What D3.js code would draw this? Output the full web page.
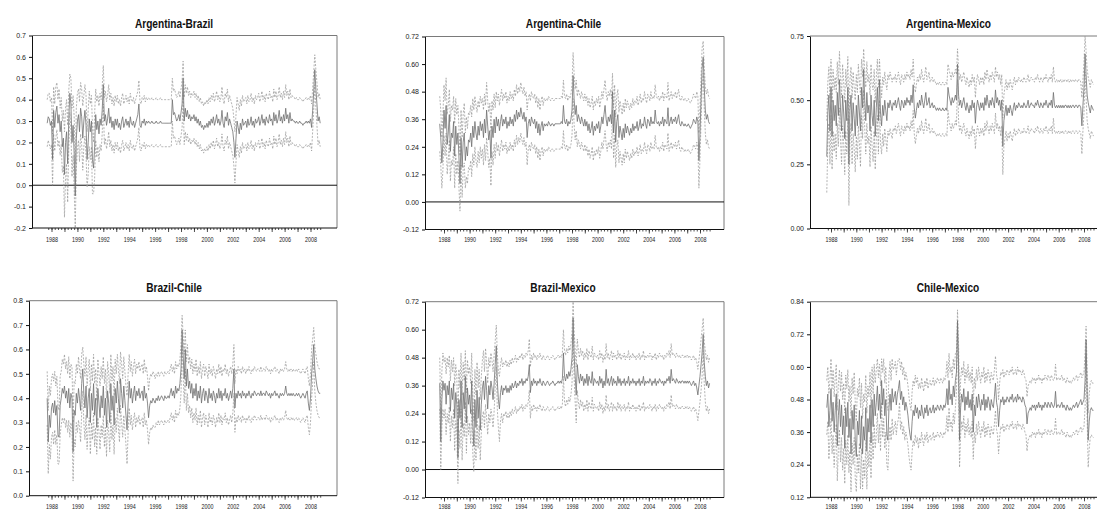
<!DOCTYPE html>
<html>
<head>
<meta charset="utf-8">
<script src="https://cdn.jsdelivr.net/npm/d3@7"></script>
<style>
  html, body { margin: 0; padding: 0; background: #fff; }
  svg { display: block; }
</style>
</head>
<body>
<svg id="chart" width="1097" height="511"></svg>
<script>
// Monthly dynamic conditional correlations (in hundredths), Sep 1987 – Oct 2008,
// and the half-width of the confidence band around each estimate.
const firstMonth = new Date(1987, 8, 1);

const argBraCorr = [
  29,32,31,28,
  30,12,35,27,34,37,29,33,25,30,18,22,
  5,20,25,10,30,43,38,20,28,15,-5,22,
  30,33,25,36,32,22,30,35,28,12,20,31,
  25,30,12,8,18,33,26,30,24,31,28,35,
  47,30,33,28,31,36,29,32,27,30,26,31,
  28,31,27,29,26,30,32,27,29,31,28,30,
  27,32,29,28,30,27,29,31,33,38,28,27,
  30,29,31,28,30,29,30,29,29,30,29,29,
  29,30,29,29,29,30,29,29,29,29,29,29,
  29,29,29,29,40,33,34,32,30,31,33,30,
  34,38,50,30,36,32,35,31,33,30,32,31,
  33,30,32,29,31,28,30,27,28,26,28,27,
  29,27,30,28,31,29,32,28,30,33,29,31,
  28,30,35,29,27,32,30,34,28,31,29,27,
  25,20,13,22,30,27,24,29,26,31,28,29,
  30,27,31,28,29,32,28,30,27,31,29,30,
  32,28,30,33,29,31,28,32,30,29,33,30,
  31,28,34,30,33,29,31,35,30,32,29,33,
  30,36,31,33,29,34,30,31,30,30,29,30,
  29,29,30,29,29,28,29,29,30,29,30,29,
  31,27,35,44,54,45,38,30,32,29
];
const argBraBand = [
  11,11,12,11,
  11,12,11,11,12,11,11,12,11,11,12,13,
  20,16,15,18,14,9,12,16,14,17,15,14,
  13,12,14,12,13,15,12,12,14,13,15,13,
  13,12,16,12,15,12,13,12,13,12,12,11,
  9,11,11,11,11,11,11,11,11,11,11,11,
  11,11,11,11,11,11,11,11,11,11,11,11,
  11,11,11,11,11,11,11,11,11,11,11,11,
  11,11,11,11,11,11,11,11,11,11,11,11,
  11,11,11,11,11,11,11,11,11,11,11,11,
  11,11,11,11,10,11,11,11,11,11,11,11,
  11,11,8,11,11,11,11,11,11,11,11,11,
  11,11,11,11,11,11,11,11,11,11,11,11,
  11,11,11,11,11,11,11,11,11,11,11,11,
  11,11,11,11,11,11,11,11,11,11,11,11,
  11,11,12,11,11,11,11,11,11,11,11,11,
  11,11,11,11,11,11,11,11,11,11,11,11,
  11,11,11,11,11,11,11,11,11,11,11,11,
  11,11,11,11,11,11,11,11,11,11,11,11,
  11,11,11,11,11,11,11,11,11,11,11,11,
  11,11,11,11,11,11,11,11,11,11,11,11,
  11,11,10,9,7,9,10,11,11,11
];

const argChiCorr = [
  34,28,17,26,
  40,32,42,25,30,38,22,30,28,35,20,33,
  25,30,20,8,28,15,26,30,18,24,20,27,
  26,30,24,33,28,35,30,27,33,29,35,31,
  34,28,36,30,40,33,27,31,19,33,28,36,
  30,37,33,36,31,35,38,33,36,34,37,32,
  35,33,37,34,36,33,38,35,40,36,39,37,
  41,38,36,39,35,37,28,34,36,33,37,35,
  34,36,32,35,30,34,29,33,35,31,34,33,
  34,33,35,34,33,34,34,33,34,34,34,34,
  34,34,35,34,42,35,34,36,33,35,34,36,
  40,55,45,38,42,35,38,36,34,37,35,33,
  36,33,35,31,34,30,32,35,29,33,31,34,
  32,35,30,33,37,34,38,42,36,33,37,35,
  38,34,48,30,40,26,35,38,28,33,30,27,
  32,28,34,30,33,31,29,32,30,34,31,33,
  32,35,31,33,36,32,34,33,37,34,32,36,
  35,33,37,34,35,34,40,35,34,35,33,35,
  34,37,33,36,35,34,41,33,35,37,34,36,
  35,37,34,36,38,34,33,35,34,33,34,33,
  33,34,33,32,33,34,36,35,34,37,35,18,
  30,45,58,63,50,40,36,38,35,34
];
const argChiBand = [
  12,12,11,12,
  11,12,12,13,12,11,13,12,12,11,14,12,
  13,12,13,12,12,13,12,13,12,13,12,12,
  12,12,13,12,12,11,12,12,11,12,11,12,
  11,12,11,12,12,11,12,12,12,11,12,11,
  11,11,11,11,11,11,11,11,11,11,11,11,
  11,11,11,11,11,11,11,11,11,11,11,11,
  11,11,11,11,11,11,12,11,11,11,11,11,
  11,11,11,11,11,11,11,11,11,11,11,11,
  11,11,11,11,11,11,11,11,11,11,11,11,
  11,11,11,11,11,11,11,11,11,11,11,11,
  11,10,11,11,11,11,11,11,11,11,11,11,
  11,11,11,11,11,11,11,11,11,11,11,11,
  11,11,11,11,11,11,11,11,11,11,11,11,
  11,11,8,11,11,11,11,11,11,11,11,11,
  11,11,11,11,11,11,11,11,11,11,11,11,
  11,11,11,11,11,11,11,11,11,11,11,11,
  11,11,11,11,11,11,11,11,11,11,11,11,
  11,11,11,11,11,11,11,11,11,11,11,11,
  11,11,11,11,11,11,11,11,11,11,11,11,
  11,11,11,11,11,11,11,11,11,11,11,12,
  11,10,9,7,9,10,11,11,11,11
];

const argMexCorr = [
  28,45,52,38,
  55,36,50,42,48,40,53,44,58,47,38,52,
  45,35,50,42,55,25,46,52,38,49,43,36,
  48,40,52,45,38,55,47,62,50,42,53,45,
  48,38,52,44,40,50,36,47,55,42,58,45,
  40,48,44,50,46,42,49,47,50,48,46,49,
  48,50,47,49,51,48,46,50,49,47,50,48,
  51,49,50,48,52,49,56,47,43,46,49,47,
  50,48,52,49,47,50,53,48,49,51,47,48,
  49,47,48,47,46,47,46,47,46,46,47,46,
  46,47,46,55,52,50,48,51,49,50,52,50,
  64,52,48,50,47,49,51,48,46,49,47,45,
  48,46,50,47,49,41,47,50,48,46,49,47,
  49,46,51,48,52,49,47,50,48,51,49,47,
  54,49,51,48,50,46,50,32,42,45,48,44,
  47,45,48,46,44,47,49,46,48,47,49,48,
  47,48,47,49,48,47,48,50,47,48,49,48,
  48,47,49,48,50,48,47,49,48,47,49,48,
  50,48,47,49,48,50,47,53,48,47,48,47,
  48,47,48,47,48,47,48,48,47,48,47,48,
  47,48,48,47,48,48,47,48,48,47,40,48,
  55,68,60,52,49,47,45,48,47,46
];
const argMexBand = [
  14,12,11,13,
  11,13,12,12,11,13,12,12,11,12,13,12,
  12,14,12,13,12,16,12,11,13,12,12,14,
  12,13,12,12,14,11,12,8,11,13,12,12,
  12,14,12,12,14,12,13,12,11,13,8,12,
  11,11,12,11,11,12,11,11,11,11,11,10,
  10,10,10,10,10,10,10,10,10,10,10,10,
  10,10,10,10,10,10,10,10,10,10,10,10,
  10,10,10,10,10,10,10,10,10,10,10,10,
  10,10,10,10,10,10,10,10,10,10,10,10,
  10,10,10,9,10,10,10,10,10,10,10,10,
  6,10,10,10,10,10,10,10,10,10,10,10,
  10,10,10,10,10,10,10,10,10,10,10,10,
  10,10,10,10,10,10,10,10,10,10,10,10,
  9,10,10,10,10,10,10,11,10,10,10,10,
  10,10,10,10,10,10,10,10,10,10,10,10,
  10,10,10,10,10,10,10,10,10,10,10,10,
  10,10,10,10,10,10,10,10,10,10,10,10,
  10,10,10,10,10,10,10,10,10,10,10,10,
  10,10,10,10,10,10,10,10,10,10,10,10,
  10,10,10,10,10,10,10,10,10,10,11,10,
  10,7,9,10,10,10,10,10,10,10
];

const braChiCorr = [
  40,22,33,28,
  36,38,34,39,33,37,25,24,37,40,44,42,
  45,40,43,38,44,36,42,40,18,35,33,42,
  38,44,40,35,46,52,42,36,45,32,40,44,
  30,42,35,46,33,40,28,44,38,32,41,36,
  45,33,40,28,43,38,30,46,35,41,29,44,
  38,47,40,34,48,42,36,45,39,33,27,38,
  47,40,44,38,42,45,39,43,41,44,40,42,
  43,39,45,40,42,38,32,37,39,38,40,39,
  38,40,39,41,39,40,41,40,39,41,40,40,
  41,40,42,44,41,43,40,45,42,44,43,46,
  52,68,58,48,60,45,52,44,47,42,46,40,
  44,41,46,39,43,40,45,38,42,44,39,43,
  41,38,44,40,42,39,43,41,38,42,40,44,
  40,43,39,42,41,44,40,42,39,41,43,40,
  44,52,36,42,40,43,41,42,40,43,41,42,
  40,42,41,43,41,40,42,41,43,42,41,42,
  42,41,43,41,42,42,41,43,42,41,42,40,
  42,41,42,43,41,42,41,40,42,41,42,41,
  42,45,42,41,42,41,42,41,42,41,41,42,
  41,42,41,40,41,42,41,40,42,43,38,35,
  40,50,55,62,52,48,45,43,42,42
];
const braChiBand = [
  11,13,12,13,
  12,12,13,12,12,12,12,11,12,11,12,12,
  13,12,12,12,13,12,12,13,12,12,13,12,
  12,13,12,13,12,9,12,13,12,13,12,12,
  13,12,12,12,13,12,11,12,12,13,12,12,
  12,13,12,12,12,12,12,12,12,12,12,12,
  12,11,12,12,11,12,12,12,12,12,14,12,
  11,11,11,11,11,11,11,11,11,11,11,11,
  11,11,11,11,11,11,11,11,11,11,11,11,
  10,10,10,10,10,10,10,10,10,10,10,10,
  10,10,10,10,10,10,10,10,10,10,10,10,
  10,6,8,10,8,10,10,10,10,10,10,10,
  10,10,10,10,10,10,10,10,10,10,10,10,
  10,10,10,10,10,10,10,10,10,10,10,10,
  10,10,10,10,10,10,10,10,10,10,10,10,
  10,10,10,10,10,10,10,10,10,10,10,10,
  10,10,10,10,10,10,10,10,10,10,10,10,
  10,10,10,10,10,10,10,10,10,10,10,10,
  10,10,10,10,10,10,10,10,10,10,10,10,
  10,10,10,10,10,10,10,10,10,10,10,10,
  10,10,10,10,10,10,10,10,10,10,10,10,
  10,10,9,7,9,10,10,10,10,10
];

const braMexCorr = [
  37,12,30,38,
  34,37,28,36,32,38,25,35,30,37,22,33,
  28,5,30,22,38,18,33,26,40,20,35,28,
  32,24,38,20,10,30,18,34,22,31,17,28,
  35,38,30,40,34,26,36,32,38,35,30,37,
  45,53,38,30,26,33,36,32,35,34,36,33,
  35,33,36,34,37,35,36,38,35,37,36,38,
  37,39,36,38,37,39,38,40,45,33,38,36,
  39,37,38,36,38,37,39,37,36,38,37,36,
  37,38,37,36,37,37,38,37,36,37,37,38,
  37,38,37,39,50,40,38,41,39,42,40,43,
  48,65,50,40,32,45,40,37,41,38,40,36,
  39,37,41,36,40,38,37,42,36,39,38,37,
  38,36,40,37,39,35,38,36,43,37,39,36,
  38,40,36,39,37,38,36,40,37,39,36,38,
  37,39,36,38,37,40,36,38,37,39,37,38,
  36,38,37,39,36,38,37,40,36,38,37,38,
  37,39,38,36,38,37,39,36,38,37,39,38,
  37,38,36,38,37,39,38,40,37,43,38,39,
  38,37,39,38,37,38,37,38,38,37,38,37,
  38,37,38,37,36,37,38,36,37,35,32,36,
  40,45,50,58,46,40,36,38,35,37
];
const braMexBand = [
  11,12,12,12,
  12,11,13,12,12,11,13,12,12,11,14,12,
  12,11,13,13,12,14,13,12,11,13,12,13,
  12,13,12,13,11,13,14,12,13,12,13,12,
  12,13,12,12,12,11,12,12,12,12,12,12,
  10,9,12,12,14,12,12,12,11,11,11,11,
  11,11,11,11,11,11,11,11,11,11,11,11,
  11,11,11,11,11,11,11,11,11,11,11,11,
  11,11,11,11,11,11,11,11,11,11,11,11,
  11,11,11,11,11,11,11,11,11,11,11,11,
  11,11,11,11,10,11,11,11,11,11,11,11,
  11,7,10,11,12,11,11,11,11,11,11,11,
  11,11,11,11,11,11,11,11,11,11,11,11,
  11,11,11,11,11,11,11,11,11,11,11,11,
  11,11,11,11,11,11,11,11,11,11,11,11,
  11,11,11,11,11,11,11,11,11,11,11,11,
  11,11,11,11,11,11,11,11,11,11,11,11,
  11,11,11,11,11,11,11,11,11,11,11,11,
  11,11,11,11,11,11,11,11,11,11,11,11,
  11,11,11,11,11,11,11,11,11,11,11,11,
  11,11,11,11,11,11,11,11,11,11,11,11,
  11,11,10,7,9,11,11,11,11,11
];

const chiMexCorr = [
  45,50,38,44,
  52,40,47,36,44,50,31,42,48,38,46,35,
  42,30,45,38,47,34,41,28,44,37,46,33,
  27,40,35,44,30,42,28,38,33,45,29,41,
  36,46,32,48,38,50,42,47,53,44,50,41,
  55,46,52,42,48,35,33,45,50,44,52,47,
  49,51,46,50,52,55,48,51,46,49,44,47,
  45,42,38,35,33,40,44,42,46,43,45,41,
  44,42,46,43,41,45,43,46,42,44,45,43,
  44,46,43,45,44,46,45,44,46,45,44,46,
  45,47,52,46,55,48,50,46,53,49,55,58,
  77,60,33,45,50,47,52,44,49,46,51,45,
  48,44,50,36,46,42,49,45,50,47,44,48,
  46,50,44,48,45,49,47,44,48,46,45,49,
  54,47,45,38,44,48,47,49,46,48,47,49,
  48,47,49,48,50,47,48,49,47,50,48,49,
  48,47,49,48,46,45,39,43,44,45,44,46,
  45,46,44,46,45,47,45,46,44,46,45,47,
  46,45,47,46,45,47,46,45,46,51,45,46,
  46,45,46,47,45,46,45,44,46,45,44,45,
  44,45,46,45,46,47,45,46,47,48,46,47,
  48,55,70,50,33,40,44,45,44,44
];
const chiMexBand = [
  10,10,12,11,
  11,12,12,13,12,11,13,12,11,13,12,13,
  12,13,12,14,12,13,12,14,12,13,12,14,
  13,12,14,12,15,12,13,12,14,12,14,12,
  13,12,13,12,12,11,12,12,10,12,11,12,
  8,12,11,12,12,11,11,12,12,11,11,12,
  11,11,11,11,11,8,11,11,11,11,11,11,
  11,11,11,11,11,11,11,11,11,11,11,11,
  10,10,10,10,10,10,10,10,10,10,10,10,
  10,10,10,10,10,10,10,10,10,10,10,10,
  10,10,10,10,10,10,10,10,10,10,10,7,
  4,8,10,10,10,10,10,10,10,10,10,10,
  10,10,10,10,10,10,10,10,10,10,10,10,
  10,10,10,10,10,10,10,10,10,10,10,10,
  10,10,10,10,10,10,10,10,10,10,10,10,
  10,10,10,10,10,10,10,10,10,10,10,10,
  10,10,10,10,10,10,10,10,10,10,10,10,
  10,10,10,10,10,10,10,10,10,10,10,10,
  10,10,10,10,10,10,10,10,10,10,10,10,
  10,10,10,10,10,10,10,10,10,10,10,10,
  10,10,10,10,10,10,10,10,10,10,10,10,
  10,10,5,9,10,10,10,10,10,10
];

// Panel titles and y-axis tick values
const pairTitles = ["Argentina-Brazil", "Argentina-Chile", "Argentina-Mexico",
                    "Brazil-Chile", "Brazil-Mexico", "Chile-Mexico"];
const argBraTicks = [-0.2, -0.1, 0.0, 0.1, 0.2, 0.3, 0.4, 0.5, 0.6, 0.7];
const argChiTicks = [-0.12, 0.00, 0.12, 0.24, 0.36, 0.48, 0.60, 0.72];
const argMexTicks = [0.00, 0.25, 0.50, 0.75];
const braChiTicks = [0.0, 0.1, 0.2, 0.3, 0.4, 0.5, 0.6, 0.7, 0.8];
const braMexTicks = [-0.12, 0.00, 0.12, 0.24, 0.36, 0.48, 0.60, 0.72];
const chiMexTicks = [0.12, 0.24, 0.36, 0.48, 0.60, 0.72, 0.84];
const tickDecimals = [1, 2, 2, 1, 2, 2];
const yearLabels = [1988, 1990, 1992, 1994, 1996, 1998, 2000, 2002, 2004, 2006, 2008];

const series = [
  { corr: argBraCorr, band: argBraBand, ticks: argBraTicks },
  { corr: argChiCorr, band: argChiBand, ticks: argChiTicks },
  { corr: argMexCorr, band: argMexBand, ticks: argMexTicks },
  { corr: braChiCorr, band: braChiBand, ticks: braChiTicks },
  { corr: braMexCorr, band: braMexBand, ticks: braMexTicks },
  { corr: chiMexCorr, band: chiMexBand, ticks: chiMexTicks }
];

// Frame geometry of each panel (3 columns x 2 rows); pad = gap between tick and year label
const frames = [
  { left: 32,  right: 337,  top: 35.5,  bottom: 228,   x88: 51.5, x08: 310.5, tx: 174,   ty: 28,    pad: 5 },
  { left: 425, right: 724,  top: 36.5,  bottom: 229.5, x88: 444,  x08: 700,   tx: 563.5, ty: 28,    pad: 4 },
  { left: 810, right: 1111, top: 36,    bottom: 228.5, x88: 831,  x08: 1084,  tx: 948.5, ty: 28,    pad: 5 },
  { left: 29,  right: 337,  top: 300.7, bottom: 495.7, x88: 51.5, x08: 310.5, tx: 174,   ty: 291.5, pad: 4 },
  { left: 425, right: 724,  top: 301.7, bottom: 497.5, x88: 444,  x08: 700,   tx: 563,   ty: 291.5, pad: 2.5 },
  { left: 810, right: 1111, top: 301.7, bottom: 497.3, x88: 831,  x08: 1084,  tx: 948,   ty: 291.5, pad: 2.5 }
];

const FONT = "'Liberation Sans', Arial, Helvetica, sans-serif";
const svg = d3.select("#chart");
svg.append("rect").attr("width", 1097).attr("height", 511).attr("fill", "#fff");

const defs = svg.append("defs");
const monthDate = i => d3.timeMonth.offset(firstMonth, i);
const quarterTicks = d3.timeMonth.every(3).range(new Date(1987, 9, 1), new Date(2008, 10, 1));
const yearTicks = d3.timeYear.range(new Date(1988, 0, 1), new Date(2009, 0, 1));

series.forEach((s, k) => {
  const f = frames[k];
  const yMin = d3.min(s.ticks), yMax = d3.max(s.ticks);
  const x = d3.scaleTime()
    .domain([new Date(1988, 0, 1), new Date(2008, 0, 1)])
    .range([f.x88, f.x08]);
  const y = d3.scaleLinear().domain([yMin, yMax]).range([f.bottom, f.top]);
  const fmt = v => v.toFixed(tickDecimals[k]);

  const g = svg.append("g");

  // clip region for the data lines
  const clipId = "clip" + k;
  defs.append("clipPath").attr("id", clipId)
    .append("rect")
    .attr("x", f.left).attr("y", f.top)
    .attr("width", f.right - f.left).attr("height", f.bottom - f.top);

  // title
  g.append("text")
    .attr("transform", `translate(${f.tx},${f.ty}) scale(0.78,1)`)
    .attr("text-anchor", "middle")
    .attr("font-family", FONT)
    .attr("font-weight", "bold")
    .attr("font-size", 13)
    .attr("fill", "#111")
    .text(pairTitles[k]);

  // top and right border
  g.append("path")
    .attr("d", `M${f.left},${f.top}H${f.right}V${f.bottom}`)
    .attr("fill", "none").attr("stroke", "#7a7a7a").attr("stroke-width", 1);

  // zero reference line
  if (yMin < 0 && yMax > 0) {
    g.append("line")
      .attr("x1", f.left).attr("x2", f.right)
      .attr("y1", y(0)).attr("y2", y(0))
      .attr("stroke", "#111").attr("stroke-width", 1);
  }

  const plot = g.append("g").attr("clip-path", `url(#${clipId})`);
  const idx = d3.range(s.corr.length);
  const line = acc => d3.line()
    .x(i => x(monthDate(i)))
    .y(i => y(acc(i) / 100))(idx);

  // confidence band (upper and lower)
  [i => s.corr[i] + s.band[i], i => s.corr[i] - s.band[i]].forEach(acc => {
    plot.append("path")
      .attr("d", line(acc))
      .attr("fill", "none")
      .attr("stroke", "#9a9a9a")
      .attr("stroke-width", 0.75)
      .attr("stroke-dasharray", "2,1.5");
  });
  // conditional correlation
  plot.append("path")
    .attr("d", line(i => s.corr[i]))
    .attr("fill", "none")
    .attr("stroke", "#707070")
    .attr("stroke-width", 0.8);

  // y axis
  const yAxis = g.append("g")
    .attr("transform", `translate(${f.left},0)`)
    .call(d3.axisLeft(y).tickValues(s.ticks).tickFormat(fmt)
      .tickSize(3).tickSizeOuter(0).tickPadding(3));
  yAxis.select(".domain").attr("stroke", "#111");
  yAxis.selectAll(".tick line").attr("stroke", "#111");
  yAxis.selectAll("text")
    .attr("font-family", FONT).attr("font-size", 7).attr("fill", "#222");

  // bottom axis line
  g.append("line")
    .attr("x1", f.left).attr("x2", f.right)
    .attr("y1", f.bottom).attr("y2", f.bottom)
    .attr("stroke", "#111").attr("stroke-width", 1);

  // quarterly minor ticks
  const minor = g.append("g")
    .attr("transform", `translate(0,${f.bottom})`)
    .call(d3.axisBottom(x).tickValues(quarterTicks).tickFormat("")
      .tickSize(2).tickSizeOuter(0));
  minor.select(".domain").remove();
  minor.selectAll(".tick line").attr("stroke", "#222").attr("stroke-width", 0.8);

  // yearly ticks with labels on even years
  const major = g.append("g")
    .attr("transform", `translate(0,${f.bottom})`)
    .call(d3.axisBottom(x).tickValues(yearTicks)
      .tickFormat(d => yearLabels.includes(d.getFullYear()) ? d.getFullYear() : "")
      .tickSize(4).tickSizeOuter(0).tickPadding(f.pad));
  major.select(".domain").remove();
  major.selectAll(".tick line").attr("stroke", "#222").attr("stroke-width", 0.8);
  major.selectAll("text")
    .attr("font-family", FONT).attr("font-size", 7).attr("fill", "#222")
    .attr("transform", "scale(0.77,1)");
});
</script>
</body>
</html>
